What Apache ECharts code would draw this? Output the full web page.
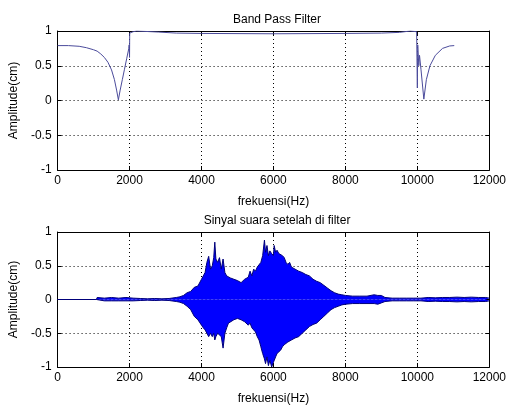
<!DOCTYPE html>
<html>
<head>
<meta charset="utf-8">
<script src="https://cdn.jsdelivr.net/npm/echarts@6/dist/echarts.min.js"></script>
<style>
  html, body { margin: 0; padding: 0; background: #fff; }
  #chart { width: 509px; height: 406px; }
</style>
</head>
<body>
<div id="chart"></div>
<script>
  // filter response (top plot)
  const filterFreq = [0, 300, 600, 800, 1000, 1100, 1200, 1300, 1400, 1500, 1580, 1640, 1690, 1740, 1800, 1860, 1920, 1980, 1990, 2000, 2005, 2100, 2200, 2800, 3300, 4000, 6000, 8000, 9000, 9500, 9800, 9980, 10000, 10010, 10040, 10060, 10100, 10180, 10250, 10350, 10500, 10700, 10900, 11025]
  const filterMag = [0.79, 0.79, 0.78, 0.76, 0.73, 0.71, 0.67, 0.62, 0.55, 0.44, 0.3, 0.15, 0.01, 0.15, 0.3, 0.45, 0.6, 0.75, 0.8, 0.62, 0.97, 0.99, 1.0, 0.985, 0.97, 0.965, 0.96, 0.965, 0.97, 0.98, 1.0, 0.99, 0.18, 0.8, 0.5, 0.65, 0.45, 0.02, 0.3, 0.5, 0.65, 0.75, 0.785, 0.79]

  // filtered signal envelope (bottom plot)
  const sigFreq = [0, 1080, 1100, 1300, 1500, 1700, 1900, 2100, 2300, 2500, 2700, 2900, 3100, 3300, 3400, 3500, 3600, 3700, 3800, 3900, 4000, 4050, 4100, 4150, 4200, 4250, 4300, 4340, 4370, 4400, 4450, 4500, 4550, 4600, 4650, 4700, 4750, 4800, 4900, 5000, 5100, 5200, 5300, 5350, 5400, 5450, 5500, 5550, 5600, 5650, 5700, 5750, 5780, 5820, 5860, 5900, 5950, 6000, 6020, 6060, 6100, 6150, 6200, 6250, 6300, 6350, 6400, 6450, 6500, 6600, 6700, 6800, 6900, 7000, 7100, 7200, 7300, 7400, 7500, 7600, 7700, 7800, 7900, 8000, 8200, 8400, 8600, 8800, 8900, 9000, 9100, 9300, 9500, 9700, 9900, 10100, 10300, 10500, 10700, 10900, 11100, 11300, 11500, 11700, 11900, 12000]
  const sigUpper = [0, 0, 0.03, 0.02, 0.03, 0.02, 0.03, 0.02, 0.015, 0.01, 0.015, 0.01, 0.015, 0.03, 0.04, 0.06, 0.1, 0.12, 0.18, 0.2, 0.3, 0.35, 0.4, 0.55, 0.64, 0.45, 0.5, 0.62, 0.85, 0.6, 0.55, 0.62, 0.45, 0.6, 0.4, 0.35, 0.33, 0.32, 0.3, 0.28, 0.25, 0.3, 0.33, 0.42, 0.35, 0.45, 0.42, 0.48, 0.5, 0.55, 0.65, 0.88, 0.7, 0.8, 0.65, 0.72, 0.68, 0.65, 0.8, 0.7, 0.73, 0.68, 0.7, 0.65, 0.62, 0.55, 0.52, 0.55, 0.48, 0.45, 0.42, 0.4, 0.37, 0.35, 0.3, 0.27, 0.25, 0.21, 0.17, 0.13, 0.1, 0.08, 0.07, 0.06, 0.05, 0.05, 0.05, 0.07, 0.06, 0.06, 0.03, 0.02, 0.02, 0.02, 0.02, 0.02, 0.03, 0.025, 0.03, 0.03, 0.035, 0.03, 0.035, 0.03, 0.03, 0.02]
  const sigLower = [0, 0, -0.02, -0.02, -0.02, -0.02, -0.02, -0.02, -0.015, -0.01, -0.015, -0.01, -0.015, -0.03, -0.04, -0.06, -0.1, -0.15, -0.25, -0.3, -0.38, -0.42, -0.45, -0.5, -0.55, -0.5, -0.55, -0.5, -0.6, -0.55, -0.5, -0.52, -0.55, -0.72, -0.5, -0.42, -0.35, -0.33, -0.3, -0.28, -0.3, -0.33, -0.38, -0.35, -0.42, -0.45, -0.48, -0.55, -0.6, -0.7, -0.8, -0.88, -0.95, -0.85, -0.98, -0.9, -1.0, -0.93, -0.95, -0.85, -0.8, -0.78, -0.75, -0.7, -0.67, -0.65, -0.63, -0.62, -0.6, -0.57, -0.55, -0.5, -0.45, -0.4, -0.37, -0.35, -0.3, -0.25, -0.2, -0.15, -0.12, -0.1, -0.08, -0.07, -0.06, -0.06, -0.06, -0.06, -0.07, -0.05, -0.03, -0.02, -0.02, -0.02, -0.02, -0.02, -0.03, -0.025, -0.03, -0.03, -0.035, -0.03, -0.035, -0.03, -0.03, -0.02]

  const xTicks = [0, 2000, 4000, 6000, 8000, 10000, 12000]
  const yTicks = [-1, -0.5, 0, 0.5, 1]

  const font = 'Liberation Sans, Arial, sans-serif'
  const myChart = echarts.init(document.getElementById('chart'))

  function xAxis(grid, top) {
    return {
      type: 'value', gridIndex: grid, position: top ? 'top' : 'bottom',
      min: xTicks[0], max: xTicks[xTicks.length - 1], interval: 2000,
      name: top ? '' : 'frekuensi(Hz)', nameLocation: 'middle', nameGap: 26,
      nameTextStyle: { color: '#000', fontSize: 12, fontFamily: font },
      axisLine: { onZero: false, lineStyle: { color: '#000', width: 1 } },
      axisTick: { inside: true, length: 4, lineStyle: { color: '#000' } },
      axisLabel: { show: !top, color: '#000', fontSize: 12, fontFamily: font, margin: 5,
        formatter: v => String(v) },
      splitLine: { show: !top, lineStyle: { color: '#000', type: [1, 3], width: 1 } }
    }
  }
  function yAxis(grid, right) {
    return {
      type: 'value', gridIndex: grid, position: right ? 'right' : 'left',
      min: yTicks[0], max: yTicks[yTicks.length - 1], interval: 0.5,
      name: right ? '' : 'Amplitude(cm)', nameLocation: 'middle', nameGap: 34,
      nameTextStyle: { color: '#000', fontSize: 12, fontFamily: font },
      axisLine: { onZero: false, lineStyle: { color: '#000', width: 1 } },
      axisTick: { inside: true, length: 4, lineStyle: { color: '#000' } },
      axisLabel: { show: !right, color: '#000', fontSize: 12, fontFamily: font, margin: 6 },
      splitLine: { show: !right, lineStyle: { color: '#000', type: [1, 3], width: 1 } }
    }
  }

  myChart.setOption({
    animation: false,
    backgroundColor: '#fff',
    title: [
      { text: 'Band Pass Filter', left: 272, top: 9, textAlign: 'center',
        textStyle: { fontSize: 12, fontWeight: 'normal', color: '#000', fontFamily: font } },
      { text: 'Sinyal suara setelah di filter', left: 272, top: 210, textAlign: 'center',
        textStyle: { fontSize: 12, fontWeight: 'normal', color: '#000', fontFamily: font } }
    ],
    grid: [
      { left: 54, top: 31, width: 437, height: 139 },
      { left: 54, top: 232, width: 437, height: 138 }
    ],
    xAxis: [xAxis(0, false), xAxis(0, true), xAxis(1, false), xAxis(1, true)],
    yAxis: [yAxis(0, false), yAxis(0, true), yAxis(1, false), yAxis(1, true)],
    series: [
      {
        type: 'line', xAxisIndex: 0, yAxisIndex: 0, symbol: 'none',
        lineStyle: { color: '#4b4b9b', width: 1 },
        data: filterFreq.map((f, i) => [f, filterMag[i]])
      },
      {
        type: 'line', xAxisIndex: 2, yAxisIndex: 2, symbol: 'none',
        lineStyle: { color: '#00007a', width: 1 },
        areaStyle: { color: '#0000ff', opacity: 1 },
        data: sigFreq.map((f, i) => [f, sigUpper[i]])
      },
      {
        type: 'line', xAxisIndex: 2, yAxisIndex: 2, symbol: 'none',
        lineStyle: { color: '#00007a', width: 1 },
        areaStyle: { color: '#0000ff', opacity: 1 },
        data: sigFreq.map((f, i) => [f, sigLower[i]])
      }
    ]
  })
</script>
</body>
</html>
